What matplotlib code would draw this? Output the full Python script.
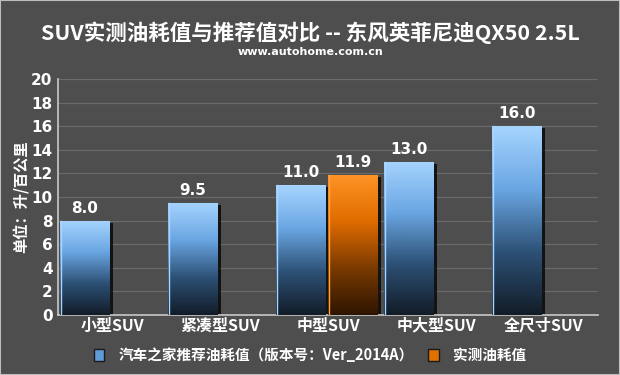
import numpy as np
import matplotlib
matplotlib.use("Agg")
import matplotlib.pyplot as plt
from matplotlib import patheffects as pe
from matplotlib.colors import LinearSegmentedColormap
from matplotlib.patches import Rectangle

plt.rcParams['font.family'] = ['Noto Sans CJK SC', 'DejaVu Sans']

categories = ['小型SUV', '紧凑型SUV', '中型SUV', '中大型SUV', '全尺寸SUV']
recommended = [8.0, 9.5, 11.0, 13.0, 16.0]
measured_cat = 2
measured_val = 11.9
yticks = [0, 2, 4, 6, 8, 10, 12, 14, 16, 18, 20]

title = 'SUV实测油耗值与推荐值对比 -- 东风英菲尼迪QX50 2.5L'
subtitle = 'www.autohome.com.cn'
ylabel = '单位：升/百公里'
legend_labels = ['汽车之家推荐油耗值（版本号：Ver_2014A）', '实测油耗值']

bg = '#4e4e4e'
fig = plt.figure(figsize=(6.2, 3.75), dpi=100, facecolor=bg)
ax = fig.add_axes([58/620, 1-315/375, 540/620, (315-79)/375])
ax.set_facecolor(bg)

blue_cmap = LinearSegmentedColormap.from_list('b', ['#121c28', '#2d5176', '#6aa6e2', '#a6d4ff'])
orange_cmap = LinearSegmentedColormap.from_list('o', ['#2e1500', '#7a3a00', '#e06c00', '#ff9426'])

x = np.arange(len(categories))
w = 0.46
shadow = [pe.SimplePatchShadow(offset=(2.5, -1.5), shadow_rgbFace='black', alpha=0.75), pe.Normal()]

def grad_bars(bars, cmap, edge):
    grad = np.linspace(0, 1, 256).reshape(-1, 1)
    for b in bars:
        b.set_path_effects(shadow)
        x0, y0 = b.get_x(), b.get_y()
        ww, hh = b.get_width(), b.get_height()
        im = ax.imshow(grad, cmap=cmap, origin='lower', aspect='auto',
                       extent=[x0, x0 + ww, y0, y0 + hh], zorder=3)
        im.set_clip_path(b)
        ax.plot([x0 + 0.005, x0 + 0.005], [y0, y0 + hh], color=edge, lw=1.0, zorder=4)

bars_b = ax.bar(x - 0.25, recommended, width=w, color='#2f5478', zorder=2, linewidth=0)
bars_o = ax.bar([x[measured_cat] + 0.23], [measured_val], width=w, color='#7a3a00', zorder=2, linewidth=0)
grad_bars(bars_b, blue_cmap, '#a8d4ff')
grad_bars(bars_o, orange_cmap, '#ffa040')

for b, v in list(zip(bars_b, recommended)) + [(bars_o[0], measured_val)]:
    ax.text(b.get_x() + b.get_width() / 2, v + 0.4, f'{v:.1f}', ha='center', va='bottom',
            color='white', fontsize=11, fontweight='bold', family='DejaVu Sans', zorder=5)

ax.set_xlim(-0.5, 4.5)
ax.set_ylim(0, 20)
ax.set_yticks(yticks)
ax.set_yticklabels([str(t) for t in yticks], color='white', fontsize=11, fontweight='bold', family='DejaVu Sans')
ax.set_xticks(x)
ax.set_xticklabels(categories, color='white', fontsize=11.5, fontweight='heavy')
ax.tick_params(axis='both', length=0, pad=4)
ax.tick_params(axis='x', pad=2)
ax.grid(axis='y', color='#6a6a6a', lw=0.9, zorder=0)
ax.set_axisbelow(True)
for s in ['top', 'right']:
    ax.spines[s].set_visible(False)
for s in ['left', 'bottom']:
    ax.spines[s].set_color('#c8c8c8')
    ax.spines[s].set_linewidth(1.2)

fig.text(22/620, 1 - 197/375, ylabel, rotation=90, ha='center', va='center', color='white',
         fontsize=11, fontweight='heavy')
fig.text(0.5, 1 - 33/375, title, ha='center', va='center', color='white', fontsize=15.5, fontweight='heavy')
fig.text(0.5, 1 - 52/375, subtitle, ha='center', va='center', color='white', fontsize=8, fontweight='bold',
         family='DejaVu Sans')

handles = [Rectangle((0, 0), 1, 1, facecolor='#5f9bd6', edgecolor='#1a1a1a'),
           Rectangle((0, 0), 1, 1, facecolor='#e07000', edgecolor='#1a1a1a')]
leg = fig.legend(handles, legend_labels, loc='center', bbox_to_anchor=(0.5, 1 - 355/375), ncol=2,
                 frameon=False, handlelength=0.7, handleheight=0.9, columnspacing=1.0, handletextpad=1.0,
                 prop={'weight': 'heavy', 'size': 10.5})
for t in leg.get_texts():
    t.set_color('white')

fig.patches.append(Rectangle((0, 0), 1, 1, transform=fig.transFigure, fill=False,
                             edgecolor='#bdbdbd', lw=1.5))
fig.savefig('out.png', dpi=100, facecolor=bg)
